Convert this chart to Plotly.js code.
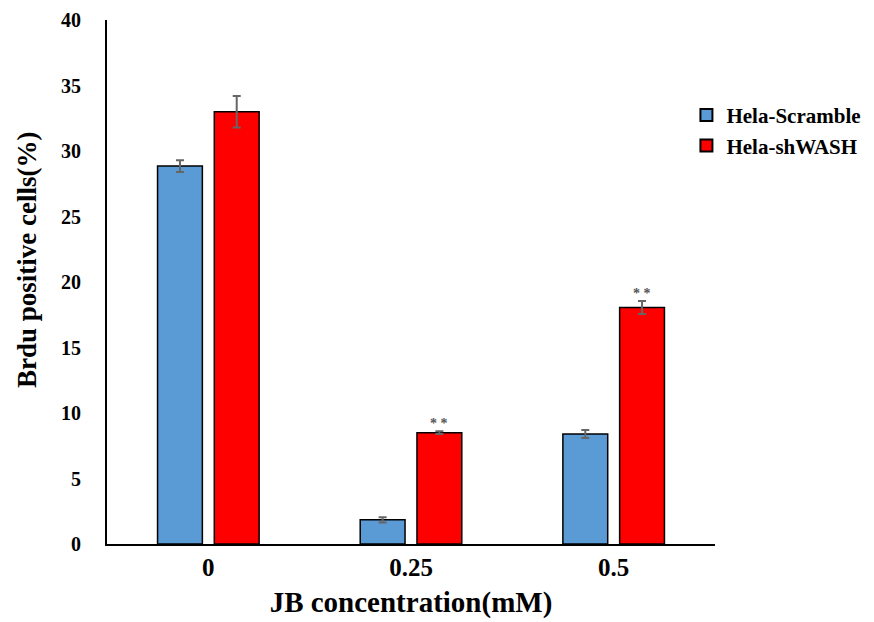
<!DOCTYPE html>
<html><head><meta charset="utf-8">
<script src="https://cdn.plot.ly/plotly-3.0.1.min.js"></script>
<style>body{margin:0;background:#fff}#c{width:874px;height:622px}</style>
</head><body><div id="c"></div>
<script>
const categories = ['0', '0.25', '0.5'];
const scrambleValues = [28.85, 1.85, 8.4];
const scrambleErr = [0.45, 0.2, 0.3];
const shwashValues = [33.0, 8.5, 18.05];
const shwashErr = [1.2, 0.1, 0.5];
const sigLabels = ['', '* *', '* *'];
const yTicks = [0, 5, 10, 15, 20, 25, 30, 35, 40];

const font = 'Liberation Serif, Times New Roman, serif';
const traces = [
  {type:'bar', name:'Hela-Scramble', x:categories, y:scrambleValues,
   marker:{color:'#5B9BD5', line:{color:'#000', width:1.5}},
   error_y:{type:'data', array:scrambleErr, visible:true, color:'#666', thickness:2, width:4}},
  {type:'bar', name:'Hela-shWASH', x:categories, y:shwashValues,
   marker:{color:'#FF0000', line:{color:'#000', width:1.5}},
   error_y:{type:'data', array:shwashErr, visible:true, color:'#666', thickness:2, width:4}}
];
const annotations = [];
categories.forEach((c, i) => {
  if (sigLabels[i]) annotations.push({x:i + 0.14, y:shwashValues[i] + shwashErr[i], xref:'x', yref:'y',
    text:sigLabels[i], showarrow:false, yanchor:'bottom', yshift:-2, font:{family:font, size:14, color:'#555', weight:'bold'}});
});
annotations.push({xref:'paper', yref:'paper', x:-0.1316, y:0.544, xanchor:'center', yanchor:'middle',
  textangle:-90, showarrow:false, text:'<b>Brdu positive cells(%)</b>', font:{family:font, size:27, color:'#000'}});
const layout = {
  width:874, height:622,
  margin:{l:107, r:159, t:20, b:78, autoexpand:false},
  paper_bgcolor:'#fff', plot_bgcolor:'#fff',
  barmode:'group', bargap:0.44, bargroupgap:0.21,
  font:{family:font, color:'#000'},
  xaxis:{type:'category', range:[-0.5, 2.5], showline:true, linecolor:'#000', linewidth:2,
    ticks:'', showgrid:false, tickfont:{family:font, size:25, color:'#000', weight:'bold'},
    title:{text:'<b>JB concentration(mM)</b>', font:{family:font, size:29, color:'#000'}, standoff:12}},
  yaxis:{range:[0, 40], tickvals:yTicks, showline:true, linecolor:'#000', linewidth:2,
    ticks:'', showgrid:false, zeroline:false, ticklabelstandoff:20,
    tickfont:{family:font, size:20, color:'#000', weight:'bold'}},
  legend:{x:0.953, y:0.857, xanchor:'left', yanchor:'top', font:{family:font, size:21, color:'#000', weight:'bold'},
    tracegroupgap:2, itemsizing:'constant'},
  annotations:annotations,
  showlegend:true
};
Plotly.newPlot('c', traces, layout, {displayModeBar:false});
</script></body></html>
